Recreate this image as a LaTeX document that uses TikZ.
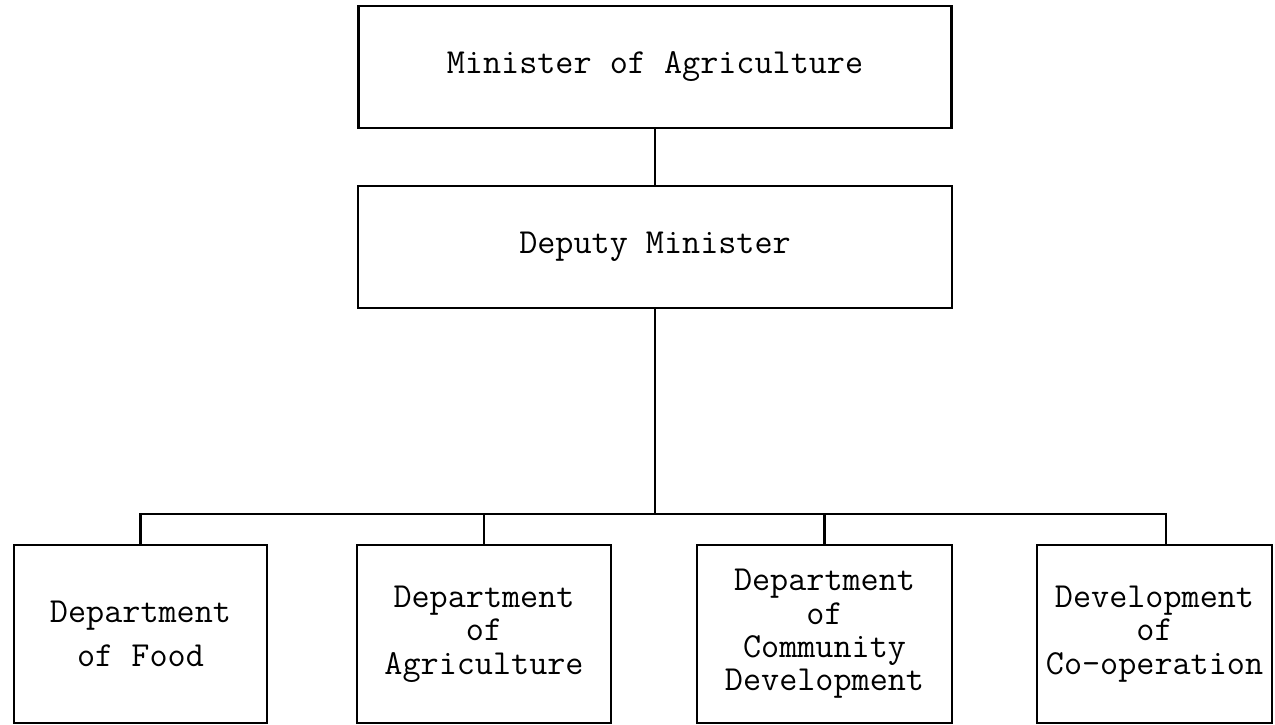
\documentclass[tikz,border=0pt]{standalone}
\usepackage{tikz}
\usetikzlibrary{positioning}

\begin{document}
\begin{tikzpicture}[
    office/.style={draw=black, line width=1.4pt, inner sep=2pt, align=center,
      font=\ttfamily\fontsize{20}{19}\selectfont},
    link/.style={line width=1.2pt},
  ]
    \useasboundingbox (0,0) rectangle (25.5,-14.5);
    \node[office, minimum width=11.86cm, minimum height=2.44cm] (minister) at (13.1, -1.34) {Minister of Agriculture};
    \node[office, minimum width=11.88cm, minimum height=2.44cm] (deputy) at (13.1, -4.94) {Deputy Minister};
    \node[office, minimum width=5.06cm, minimum height=3.56cm] (food) at (2.81, -12.68) {Department\\[6pt]of Food};
    \node[office, minimum width=5.08cm, minimum height=3.56cm] (agri) at (9.68, -12.68) {Department\\of\\Agriculture};
    \node[office, minimum width=5.1cm, minimum height=3.56cm] (comm) at (16.49, -12.68) {Department\\of\\Community\\Development};
    \node[office, minimum width=4.7cm, minimum height=3.56cm] (coop) at (23.09, -12.68) {Development\\of\\Co-operation};
    \path (food.north) ++(0,0.6) coordinate (bus);
    \draw[link] (minister.south) -- (deputy.north);
    \draw[link] (deputy.south) -- (deputy.south |- bus);
    \draw[link] (food.north) -- (bus) -| ([xshift=0.23cm]coop.north);
    \draw[link] (agri.north) -- (agri.north |- bus);
    \draw[link] (comm.north) -- (comm.north |- bus);
  \end{tikzpicture}
\end{document}
